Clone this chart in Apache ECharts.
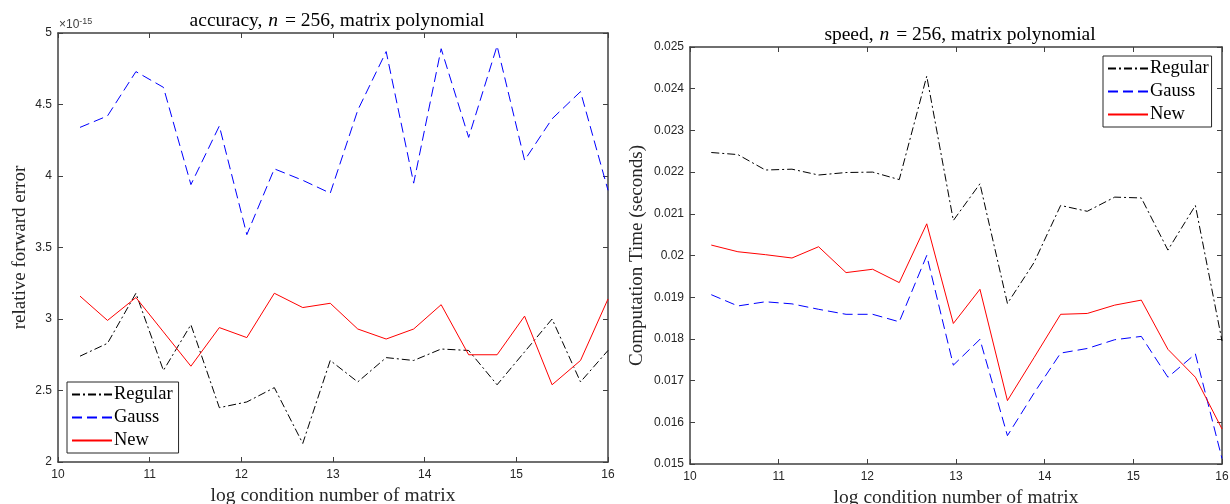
<!DOCTYPE html>
<html>
<head>
<meta charset="utf-8">
<script src="https://cdn.jsdelivr.net/npm/echarts@6/dist/echarts.min.js"></script>
<style>html,body{margin:0;padding:0;background:#fff}#c{width:1230px;height:504px}</style>
</head>
<body>
<div id="c"></div>
<script>
// log condition number (shared x values)
const logCond = [10.24, 10.54, 10.85, 11.15, 11.45, 11.76, 12.06, 12.36, 12.67, 12.97,
                 13.27, 13.58, 13.88, 14.18, 14.48, 14.79, 15.09, 15.39, 15.70, 16.00];
// accuracy (relative forward error, in units of 1e-15)
const accRegular = [2.74, 2.83, 3.18, 2.64, 2.96, 2.38, 2.42, 2.52, 2.13, 2.71,
                    2.56, 2.73, 2.71, 2.79, 2.78, 2.54, 2.77, 3.00, 2.56, 2.78];
const accGauss   = [4.34, 4.42, 4.73, 4.62, 3.94, 4.35, 3.59, 4.05, 3.97, 3.88,
                    4.46, 4.87, 3.95, 4.89, 4.27, 4.91, 4.11, 4.40, 4.59, 3.90];
const accNew     = [3.16, 2.99, 3.15, 2.91, 2.67, 2.94, 2.87, 3.18, 3.08, 3.11,
                    2.93, 2.86, 2.93, 3.10, 2.75, 2.75, 3.02, 2.54, 2.71, 3.14];
// speed (computation time, seconds)
const spdRegular = [0.02247, 0.02242, 0.02205, 0.02207, 0.02193, 0.02199, 0.02200, 0.02182, 0.02430, 0.02084,
                    0.02172, 0.01885, 0.01983, 0.02120, 0.02106, 0.02140, 0.02138, 0.02013, 0.02120, 0.01795];
const spdGauss   = [0.01906, 0.01879, 0.01889, 0.01884, 0.01871, 0.01859, 0.01859, 0.01841, 0.02000, 0.01737,
                    0.01799, 0.01568, 0.01670, 0.01766, 0.01777, 0.01798, 0.01806, 0.01708, 0.01764, 0.01513];
const spdNew     = [0.02025, 0.02009, 0.02002, 0.01994, 0.02021, 0.01959, 0.01967, 0.01935, 0.02076, 0.01837,
                    0.01919, 0.01652, 0.01755, 0.01859, 0.01861, 0.01881, 0.01893, 0.01775, 0.01708, 0.01584];
const seriesNames = ['Regular', 'Gauss', 'New'];
const accScaleLabel = '-15';

const pair = ys => ys.map((y, i) => [logCond[i], y]);
const serif = 'Liberation Serif';
const sans = 'Liberation Sans';
const axisCol = '#404040';
const styles = {
  Regular: {color: '#000000', type: [8, 3, 2, 3]},
  Gauss:   {color: '#0000ff', type: [10, 5]},
  New:     {color: '#ff0000', type: 'solid'}
};

function xAx(grid, top) {
  return {
    type: 'value', gridIndex: grid, min: 10, max: 16, interval: 1,
    position: top ? 'top' : 'bottom',
    name: top ? '' : 'log condition number of matrix',
    nameLocation: 'middle', nameGap: 24,
    nameTextStyle: {fontFamily: serif, fontSize: 19.5, color: '#262626'},
    axisLine: {show: true, onZero: false, lineStyle: {color: axisCol, width: 1.5}},
    axisTick: {show: true, inside: true, length: 5, lineStyle: {color: axisCol}},
    axisLabel: {show: !top, fontFamily: sans, fontSize: 12, color: '#262626', margin: 7},
    splitLine: {show: false}
  };
}
function yAx(grid, right, min, max, interval, name, gap, fmt) {
  return {
    type: 'value', gridIndex: grid, min: min, max: max, interval: interval,
    position: right ? 'right' : 'left',
    name: right ? '' : name, nameLocation: 'middle', nameGap: gap,
    nameTextStyle: {fontFamily: serif, fontSize: 19, color: '#262626'},
    axisLine: {show: true, onZero: false, lineStyle: {color: axisCol, width: 1.5}},
    axisTick: {show: true, inside: true, length: 5, lineStyle: {color: axisCol}},
    axisLabel: {show: !right, fontFamily: sans, fontSize: 12, color: '#262626', margin: 6, formatter: fmt},
    splitLine: {show: false}
  };
}
function mk(grid, xi, yi, name, ys) {
  return {
    type: 'line', name: name, xAxisIndex: xi, yAxisIndex: yi, data: pair(ys),
    symbol: 'none', showSymbol: false, animation: false, z: name === 'New' ? 3 : 2,
    lineStyle: {color: styles[name].color, width: 1, type: styles[name].type},
    itemStyle: {color: styles[name].color}
  };
}
function legend(left, top, padR) {
  return {
    data: seriesNames, orient: 'vertical', left: left, top: top,
    itemWidth: 40, itemHeight: 12, itemGap: 4,
    backgroundColor: '#fff', borderColor: '#262626', borderWidth: 1, borderRadius: 0,
    padding: [3, padR, 3, 4],
    itemStyle: {opacity: 0, borderWidth: 0},
    textStyle: {fontFamily: serif, fontSize: 18.5, lineHeight: 17.5, color: '#000', padding: [0, 0, 0, -3]},
    selectedMode: false
  };
}

const chart = echarts.init(document.getElementById('c'), null, {renderer: 'canvas'});
chart.setOption({
  backgroundColor: '#fff',
  animation: false,
  title: [
    {text: 'accuracy, {i|n} = 256, matrix polynomial', left: 332, top: 6, textAlign: 'center',
     textStyle: {fontFamily: serif, fontSize: 19.5, fontWeight: 'normal', color: '#000',
       rich: {i: {fontFamily: serif, fontStyle: 'italic', fontSize: 19.5, padding: [0, 2, 0, 1]}}}},
    {text: 'speed, {i|n} = 256, matrix polynomial', left: 955, top: 20, textAlign: 'center',
     textStyle: {fontFamily: serif, fontSize: 19.5, fontWeight: 'normal', color: '#000',
       rich: {i: {fontFamily: serif, fontStyle: 'italic', fontSize: 19.5, padding: [0, 2, 0, 1]}}}}
  ],
  grid: [
    {left: 58, right: 622, top: 33, bottom: 42, outerBoundsMode: 'none', containLabel: false},
    {left: 690, right: 8, top: 47, bottom: 40, outerBoundsMode: 'none', containLabel: false}
  ],
  xAxis: [xAx(0, false), xAx(0, true), xAx(1, false), xAx(1, true)],
  yAxis: [
    yAx(0, false, 2, 5, 0.5, 'relative forward error', 28, v => String(v)),
    yAx(0, true, 2, 5, 0.5, '', 0),
    yAx(1, false, 0.015, 0.025, 0.001, 'Computation Time (seconds)', 43, v => String(+v.toFixed(3))),
    yAx(1, true, 0.015, 0.025, 0.001, '', 0)
  ],
  legend: [legend(67, 382, 6), legend(1103, 56, 3)],
  graphic: [
    {type: 'text', left: 59, top: 17,
     style: {text: '×10{s|' + accScaleLabel + '}', fontFamily: sans, fontSize: 12, fill: '#404040',
       rich: {s: {fontSize: 9, verticalAlign: 'top', padding: [0, 0, 6, 0]}}}}
  ],
  series: [
    mk(0, 0, 0, 'Regular', accRegular),
    mk(0, 0, 0, 'Gauss', accGauss),
    mk(0, 0, 0, 'New', accNew),
    mk(1, 2, 2, 'Regular', spdRegular),
    mk(1, 2, 2, 'Gauss', spdGauss),
    mk(1, 2, 2, 'New', spdNew)
  ]
});
</script>
</body>
</html>
